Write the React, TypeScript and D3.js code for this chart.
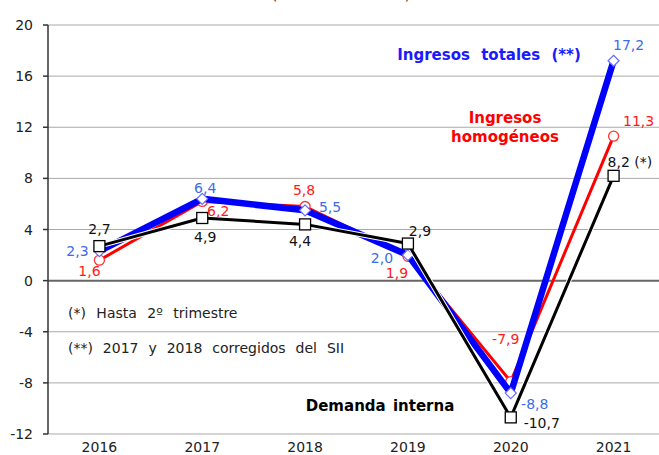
import React from "react";
import * as d3 from "d3";

const years = ["2016", "2017", "2018", "2019", "2020", "2021"];
const ingresosTotales = [2.3, 6.4, 5.5, 2.0, -8.8, 17.2];
const ingresosHomogeneos = [1.6, 6.2, 5.8, 1.9, -7.9, 11.3];
const demandaInterna = [2.7, 4.9, 4.4, 2.9, -10.7, 8.2];
const yTicks = [20, 16, 12, 8, 4, 0, -4, -8, -12];

// label offsets (layout only)
const blueOff = [[-22, 0], [3, -11], [25, -3], [-26, 3], [24, 11], [15, -16]];
const redOff = [[-10, 11], [16, 10], [-1, -16], [-11, 17], [-5, -43], [25, -15]];
const blackOff = [[0, -17], [3, 19], [-5, 17], [12, -13], [31, 6], [-6, -14]];

const W = 659, H = 455;
const FONT = "'DejaVu Sans', Verdana, sans-serif";

const fmt = (v: number) => v.toFixed(1).replace(".", ",");

export default function App() {
  const x = d3.scaleBand<string>().domain(years).range([48, 665]);
  const y = d3.scaleLinear().domain([-12, 20]).range([434, 25]);
  const cx = (i: number) => (x(years[i]) as number) + x.bandwidth() / 2;
  const line = d3
    .line<number>()
    .x((_, i) => cx(i))
    .y((d) => y(d));

  const labels = (vals: number[], off: number[][], color: string, last?: string) =>
    vals.map((v, i) => {
      const isLast = last && i === vals.length - 1;
      return (
        <text
          key={i}
          x={cx(i) + off[i][0]}
          y={y(v) + off[i][1]}
          textAnchor={isLast ? "start" : "middle"}
          dominantBaseline="central"
          fill={color}
          fontSize={14}
        >
          {fmt(v) + (isLast ? last : "")}
        </text>
      );
    });

  return (
    <svg
      width={W}
      height={H}
      style={{ position: "absolute", left: 0, top: 0, background: "#fff" }}
      fontFamily={FONT}
    >
      <rect x={0} y={0} width={W} height={H} fill="#fff" />
      <text x={341} y={0} textAnchor="middle" fontSize={14} fill="#222">
        (tasas de variación)
      </text>
      {/* gridlines */}
      {yTicks.map((t) => (
        <line
          key={t}
          x1={48}
          x2={W}
          y1={y(t)}
          y2={y(t)}
          stroke={t === 0 ? "#666" : "#aaa"}
          strokeWidth={t === 0 ? 2 : 1}
        />
      ))}
      {/* y axis */}
      <line x1={48} x2={48} y1={y(20)} y2={y(-12)} stroke="#333" strokeWidth={1.5} />
      {yTicks.map((t) => (
        <g key={"t" + t}>
          <line x1={43} x2={48} y1={y(t)} y2={y(t)} stroke="#333" strokeWidth={1.5} />
          <text
            x={33}
            y={y(t)}
            textAnchor="end"
            dominantBaseline="central"
            fontSize={14}
            fill="#222"
          >
            {t}
          </text>
        </g>
      ))}
      {years.map((yr, i) => (
        <text key={yr} x={cx(i)} y={447} textAnchor="middle" dominantBaseline="central" fontSize={14} fill="#222">
          {yr}
        </text>
      ))}

      {/* red series */}
      <path d={line(ingresosHomogeneos) || ""} fill="none" stroke="#ff0000" strokeWidth={3} strokeLinejoin="round" />
      {ingresosHomogeneos.map((v, i) => (
        <circle key={i} cx={cx(i)} cy={y(v)} r={5} fill="#fff" stroke="#ff3333" strokeWidth={1.3} />
      ))}
      {/* blue series */}
      <path d={line(ingresosTotales) || ""} fill="none" stroke="#0000ff" strokeWidth={6.5} strokeLinejoin="round" />
      {ingresosTotales.map((v, i) => (
        <path
          key={i}
          d={`M${cx(i)},${y(v) - 5.5}L${cx(i) + 5.5},${y(v)}L${cx(i)},${y(v) + 5.5}L${cx(i) - 5.5},${y(v)}Z`}
          fill="#fff"
          stroke="#6a6aff"
          strokeWidth={1.2}
        />
      ))}
      {/* black series */}
      <path d={line(demandaInterna) || ""} fill="none" stroke="#fff" strokeWidth={5} strokeLinejoin="round" />
      <path d={line(demandaInterna) || ""} fill="none" stroke="#000" strokeWidth={3} strokeLinejoin="round" />
      {demandaInterna.map((v, i) => (
        <rect key={i} x={cx(i) - 5.5} y={y(v) - 5.5} width={11} height={11} fill="#fff" stroke="#000" strokeWidth={1.3} />
      ))}

      {labels(ingresosTotales, blueOff, "#3c6ce8")}
      {labels(ingresosHomogeneos, redOff, "#ff1a1a")}
      {labels(demandaInterna, blackOff, "#111", " (*)")}

      {/* annotations */}
      <text x={489} y={55} textAnchor="middle" dominantBaseline="central" fontSize={15} fontWeight="bold" fill="#1a1aff" wordSpacing={6}>
        Ingresos totales (**)
      </text>
      <text x={505} y={118} textAnchor="middle" dominantBaseline="central" fontSize={15} fontWeight="bold" fill="#ff0000">
        Ingresos
      </text>
      <text x={505} y={137} textAnchor="middle" dominantBaseline="central" fontSize={15} fontWeight="bold" fill="#ff0000">
        homogéneos
      </text>
      <text x={380} y={406} textAnchor="middle" dominantBaseline="central" fontSize={15} fontWeight="bold" fill="#000" wordSpacing={2}>
        Demanda interna
      </text>
      <text x={68} y={313} dominantBaseline="central" fontSize={14} fill="#222" wordSpacing={6}>
        (*) Hasta 2º trimestre
      </text>
      <text x={68} y={348} dominantBaseline="central" fontSize={14} fill="#222" wordSpacing={5.5}>
        (**) 2017 y 2018 corregidos del SII
      </text>
    </svg>
  );
}
